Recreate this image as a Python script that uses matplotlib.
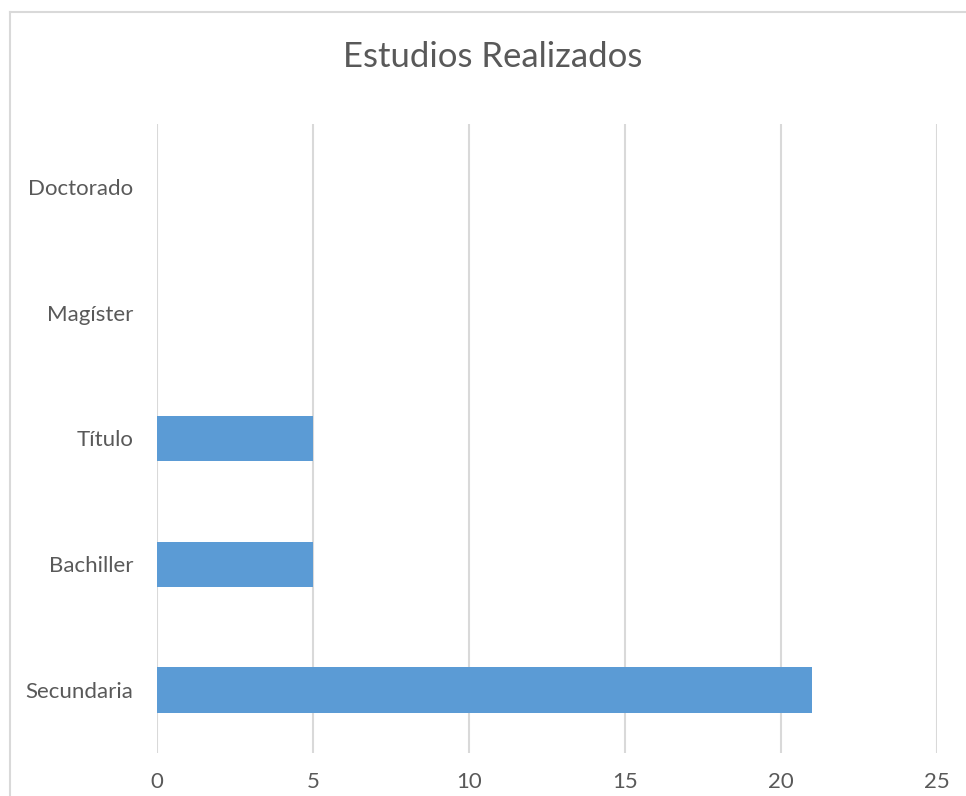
import matplotlib.pyplot as plt
from matplotlib.lines import Line2D

# Study levels and number of people at each level
categories = ['Secundaria', 'Bachiller', 'Título', 'Magíster', 'Doctorado']
counts = [21, 5, 5, 0, 0]
x_ticks = [0, 5, 10, 15, 20, 25]

bar_color = '#5B9BD5'
text_color = '#595959'
grid_color = '#D9D9D9'

plt.rcParams['font.family'] = ['Lato', 'DejaVu Sans']

fig = plt.figure(figsize=(9.66, 7.96), dpi=100)
ax = fig.add_axes([157 / 966, 43 / 796, 780 / 966, 629 / 796])

ax.barh(categories, counts, height=0.36, color=bar_color, zorder=3)

ax.set_xlim(0, 25)
ax.set_ylim(-0.5, len(categories) - 0.5)
ax.set_xticks(x_ticks)
ax.xaxis.grid(True, color=grid_color, linewidth=1.5, zorder=0)
ax.tick_params(axis='both', length=0, labelsize=16, colors=text_color)
ax.tick_params(axis='x', pad=14)
ax.tick_params(axis='y', pad=17)
for side in ax.spines.values():
    side.set_visible(False)

fig.text(493 / 966, 1 - 57 / 796, 'Estudios Realizados', ha='center', va='center',
         fontsize=25, color=text_color)

# chart frame (top and left edges)
fig.add_artist(Line2D([9.5 / 966, 1.0], [1 - 11.5 / 796] * 2, color=grid_color, linewidth=1.5))
fig.add_artist(Line2D([9.5 / 966] * 2, [0.0, 1 - 11.5 / 796], color=grid_color, linewidth=1.5))

fig.savefig('out.png', dpi=100)
